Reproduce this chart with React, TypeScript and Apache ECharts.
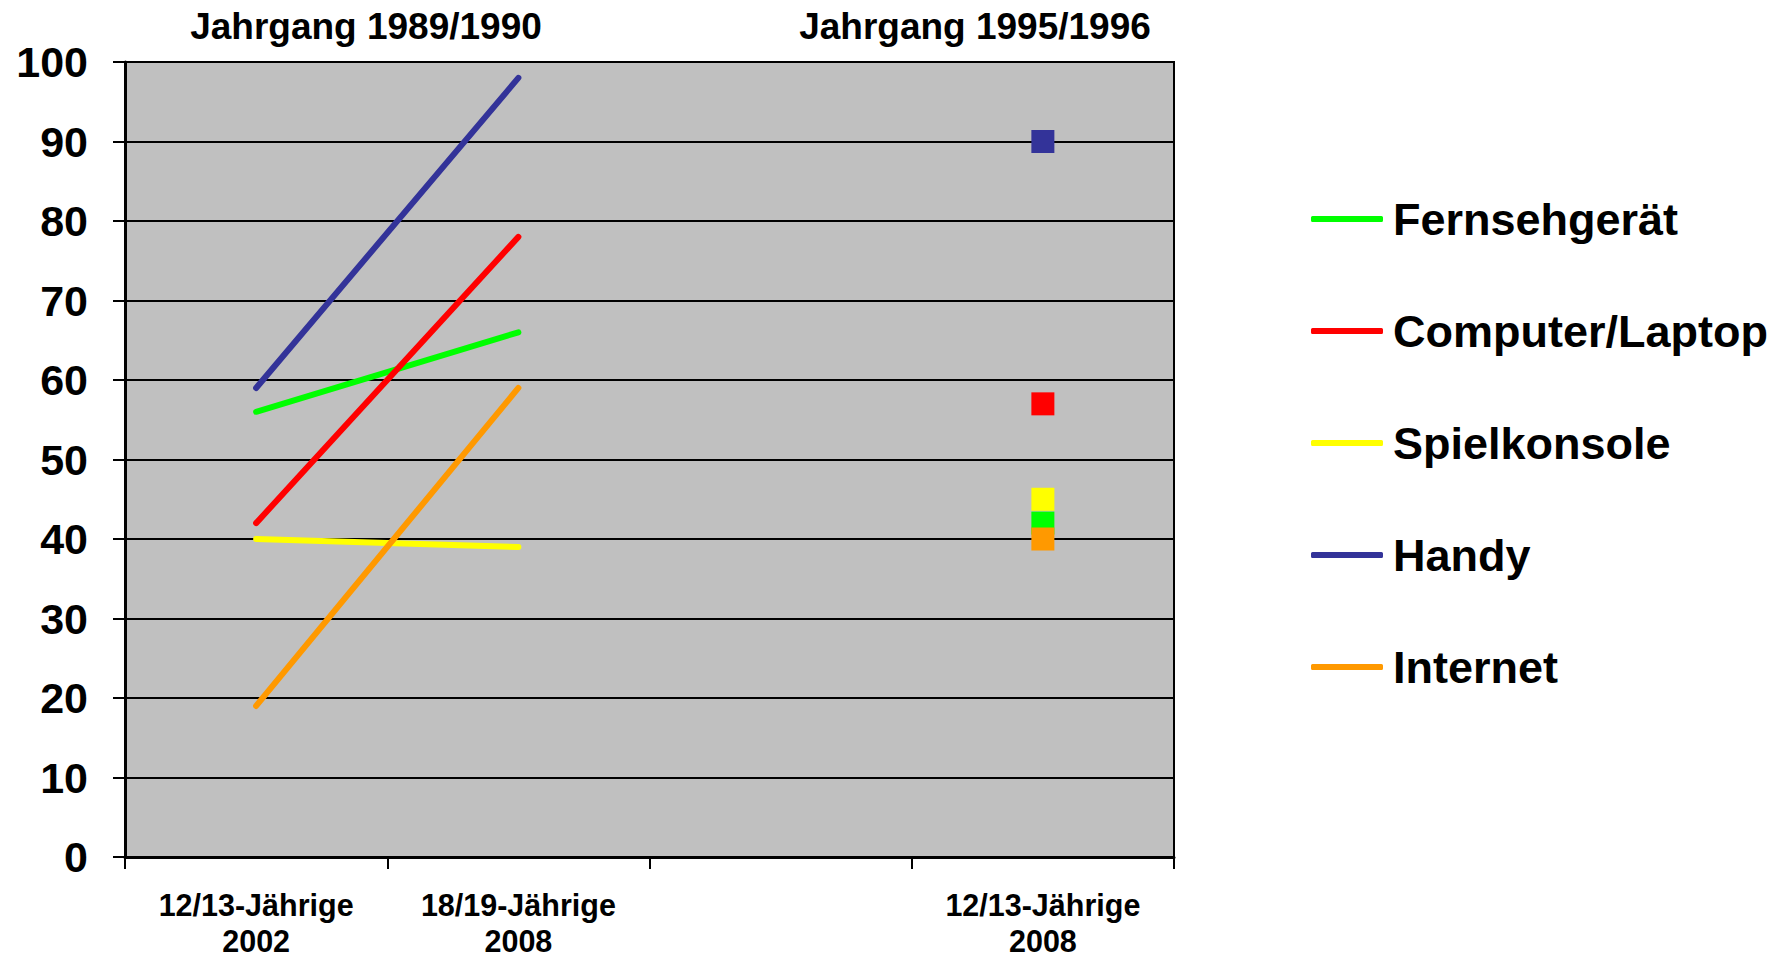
import React, { useEffect, useRef } from "react";
import * as echarts from "echarts";

const categories = ["12/13-Jährige\n2002", "18/19-Jährige\n2008", "", "12/13-Jährige\n2008"];
const seriesNames = ["Fernsehgerät", "Computer/Laptop", "Spielkonsole", "Handy", "Internet"];
const seriesColors = ["#00FF00", "#FF0000", "#FFFF00", "#333399", "#FF9900"];
// Jahrgang 1989/1990: 12/13-Jährige 2002, 18/19-Jährige 2008
const fernsehgeraet = [56, 66];
const computer = [42, 78];
const spielkonsole = [40, 39];
const handy = [59, 98];
const internet = [19, 59];
// Jahrgang 1995/1996: 12/13-Jährige 2008
const cohort2008 = [42, 57, 45, 90, 40];
const yTicks = { min: 0, max: 100, interval: 10 };
const titles = ["Jahrgang 1989/1990", "Jahrgang 1995/1996"];

const FONT = "'Liberation Sans', Arial, Helvetica, sans-serif";

export default function App() {
  const ref = useRef<HTMLDivElement>(null);
  useEffect(() => {
    if (!ref.current) return;
    const chart = echarts.init(ref.current, undefined, { renderer: "svg" });
    const lineData = [fernsehgeraet, computer, spielkonsole, handy, internet];
    const lineSeries = seriesNames.map((name, i) => ({
      name,
      type: "line",
      data: lineData[i],
      symbol: "none",
      z: 3,
      lineStyle: { color: seriesColors[i], width: 6, cap: "round" },
      itemStyle: { color: seriesColors[i] },
    }));
    const pointSeries = seriesNames.map((name, i) => ({
      name: name + " 2008",
      type: "scatter",
      data: ["-", "-", "-", cohort2008[i]],
      symbol: "rect",
      symbolSize: 23,
      z: 4,
      itemStyle: { color: seriesColors[i], opacity: 1 },
    }));
    chart.setOption({
      animation: false,
      grid: {
        left: 125,
        right: 603,
        top: 62,
        bottom: 98,
        show: true,
        backgroundColor: "#C0C0C0",
        borderColor: "#000",
        borderWidth: 2,
      },
      xAxis: {
        type: "category",
        data: categories,
        boundaryGap: true,
        axisLine: { lineStyle: { color: "#000", width: 3 } },
        axisTick: { show: true, length: 12, lineStyle: { color: "#000", width: 2 } },
        axisLabel: {
          interval: 0,
          margin: 30,
          fontFamily: FONT,
          fontWeight: "bold",
          fontSize: 30.5,
          lineHeight: 36,
          color: "#000",
        },
        splitLine: { show: false },
      },
      yAxis: {
        type: "value",
        min: yTicks.min,
        max: yTicks.max,
        interval: yTicks.interval,
        axisLine: { show: true, lineStyle: { color: "#000", width: 3 } },
        axisTick: { show: true, length: 12, lineStyle: { color: "#000", width: 2 } },
        axisLabel: {
          margin: 37,
          fontFamily: FONT,
          fontWeight: "bold",
          fontSize: 43,
          color: "#000",
        },
        splitLine: { show: true, lineStyle: { color: "#000", width: 2 } },
      },
      legend: {
        orient: "vertical",
        left: 1306,
        top: 189,
        data: seriesNames,
        icon: "roundRect",
        itemWidth: 72,
        itemHeight: 6,
        itemGap: 62,
        selectedMode: false,
        textStyle: {
          fontFamily: FONT,
          fontWeight: "bold",
          fontSize: 45,
          lineHeight: 50,
          color: "#000",
          padding: [0, 0, 0, 5],
        },
      },
      graphic: [
        {
          type: "text",
          x: 366,
          y: 26,
          style: {
            text: titles[0],
            font: `bold 37px ${FONT}`,
            fill: "#000",
            textAlign: "center",
            textVerticalAlign: "middle",
          },
        },
        {
          type: "text",
          x: 975,
          y: 26,
          style: {
            text: titles[1],
            font: `bold 37px ${FONT}`,
            fill: "#000",
            textAlign: "center",
            textVerticalAlign: "middle",
          },
        },
      ],
      series: [...lineSeries, ...pointSeries],
    });
    return () => chart.dispose();
  }, []);
  return (
    <div
      ref={ref}
      style={{ position: "fixed", left: 0, top: 0, width: 1777, height: 959, background: "#fff" }}
    />
  );
}
